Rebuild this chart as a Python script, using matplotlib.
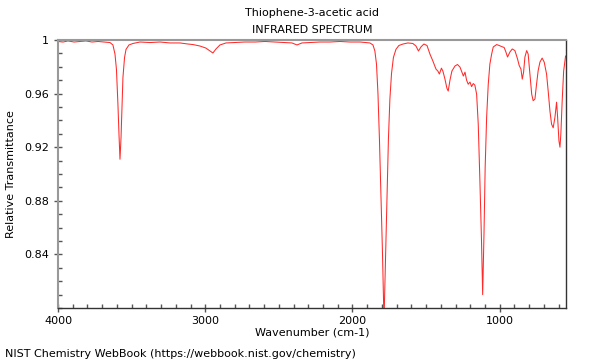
import numpy as np
import matplotlib.pyplot as plt
from matplotlib.ticker import MultipleLocator

OUT_PNG = "out.png"

TITLE = "Thiophene-3-acetic acid"
SUBTITLE = "INFRARED SPECTRUM"
FOOTER = "NIST Chemistry WebBook (https://webbook.nist.gov/chemistry)"

# wavenumber (cm-1)
wavenumber = np.array([
    4000, 3966, 3932, 3891, 3851, 3810, 3769, 3728, 3688, 3647,
    3627, 3613, 3603, 3593, 3586, 3579, 3572, 3565, 3559, 3548,
    3538, 3518, 3491, 3443, 3375, 3307, 3240, 3172, 3117, 3083,
    3036, 2996, 2968, 2948, 2927, 2900, 2859, 2798, 2730, 2662,
    2594, 2527, 2459, 2411, 2377, 2343, 2289, 2221, 2153, 2085,
    2017, 1949, 1909, 1882, 1861, 1848, 1837, 1827, 1817, 1807,
    1797, 1786, 1776, 1766, 1756, 1746, 1735, 1722, 1705, 1685,
    1657, 1624, 1590, 1569, 1552, 1535, 1515, 1494, 1474, 1454,
    1433, 1420, 1410, 1396, 1386, 1372, 1359, 1350, 1338, 1325,
    1304, 1287, 1270, 1257, 1247, 1236, 1225, 1214, 1202, 1191,
    1180, 1169, 1157, 1146, 1135, 1124, 1116, 1107, 1099, 1089,
    1078, 1067, 1055, 1044, 1021, 1004, 987, 970, 958, 947,
    931, 915, 897, 879, 868, 856, 847, 838, 829, 817,
    807, 795, 783, 773, 761, 750, 739, 727, 712, 698,
    682, 671, 659, 648, 637, 625, 614, 607, 598, 591,
    585, 576, 566, 553,
])

# relative transmittance
transmittance = np.array([
    0.9989, 0.9985, 0.9993, 0.9985, 0.9989, 0.9993, 0.9985, 0.9989, 0.9985, 0.9981,
    0.9963, 0.9895, 0.978, 0.952, 0.930, 0.911, 0.927, 0.952, 0.972, 0.987,
    0.993, 0.9963, 0.9974, 0.9985, 0.9981, 0.9985, 0.9978, 0.9978, 0.997, 0.9966,
    0.9955, 0.994, 0.9918, 0.9903, 0.9933, 0.9963, 0.9978, 0.9981, 0.9985, 0.9985,
    0.9989, 0.9985, 0.9981, 0.9978, 0.9963, 0.9978, 0.9981, 0.9985, 0.9985, 0.9989,
    0.9985, 0.9985, 0.9981, 0.9978, 0.9963, 0.9918, 0.982, 0.960, 0.926, 0.885,
    0.844, 0.790, 0.836, 0.885, 0.926, 0.956, 0.975, 0.987, 0.993, 0.9959,
    0.997, 0.9978, 0.9974, 0.9955, 0.9918, 0.9948, 0.997, 0.9959, 0.9895, 0.9843,
    0.9783, 0.9768, 0.9746, 0.979, 0.9768, 0.9708, 0.9641, 0.9619, 0.970, 0.9768,
    0.9806, 0.9817, 0.9798, 0.976, 0.9731, 0.976, 0.970, 0.967, 0.9686, 0.9652,
    0.9675, 0.9663, 0.9596, 0.9372, 0.896, 0.851, 0.810, 0.855, 0.905, 0.9424,
    0.967, 0.982, 0.9895, 0.9948, 0.9966, 0.9959, 0.9951, 0.9944, 0.991, 0.9873,
    0.991, 0.9933, 0.9921, 0.9858, 0.981, 0.9783, 0.9708, 0.976, 0.9873, 0.9921,
    0.9895, 0.9746, 0.9596, 0.9547, 0.9559, 0.967, 0.9772, 0.9835, 0.9865, 0.9835,
    0.9746, 0.9619, 0.9469, 0.9372, 0.9345, 0.9424, 0.9536, 0.9424, 0.9248, 0.920,
    0.9297, 0.9544, 0.9768, 0.988,
])

plt.rcParams["font.family"] = "DejaVu Sans"
plt.rcParams["font.size"] = 8

fig = plt.figure(figsize=(6, 3.6), dpi=100)
ax = fig.add_axes([58 / 600, 1 - 308 / 360, 508 / 600, 268 / 360])

ax.plot(wavenumber, transmittance, color="#ff2a2a", linewidth=0.75)

ax.set_xlim(4000, 550)
ax.set_ylim(0.8, 1.0)

ax.xaxis.set_major_locator(MultipleLocator(1000))
ax.xaxis.set_minor_locator(MultipleLocator(100))
ax.yaxis.set_minor_locator(MultipleLocator(0.01))
ax.set_yticks([0.84, 0.88, 0.92, 0.96, 1.0])
ax.set_yticklabels(["0.84", "0.88", "0.92", "0.96", "1"])

ax.tick_params(which="major", direction="inout", length=6, width=1, color="#555555", labelsize=8)
ax.tick_params(which="minor", direction="in", length=3, width=1, color="#555555")
ax.tick_params(top=False, right=False)
ax.tick_params(axis="x", pad=3)

ax.spines["top"].set_color("#999999")
ax.spines["top"].set_linewidth(1.5)
ax.spines["left"].set_color("#999999")
ax.spines["left"].set_linewidth(1.5)
ax.spines["right"].set_color("#333333")
ax.spines["right"].set_linewidth(1.0)
ax.spines["bottom"].set_color("#333333")
ax.spines["bottom"].set_linewidth(1.0)

ax.set_xlabel("Wavenumber (cm-1)", labelpad=1)
ax.set_ylabel("Relative Transmittance", labelpad=6)

fig.text(312 / 600, 1 - 13 / 360, TITLE, ha="center", va="center", fontsize=8)
fig.text(312 / 600, 1 - 30 / 360, SUBTITLE, ha="center", va="center", fontsize=8)
fig.text(5 / 600, 1 - 357 / 360, FOOTER, ha="left", va="baseline", fontsize=8)

fig.savefig(OUT_PNG, dpi=100)
plt.close(fig)
